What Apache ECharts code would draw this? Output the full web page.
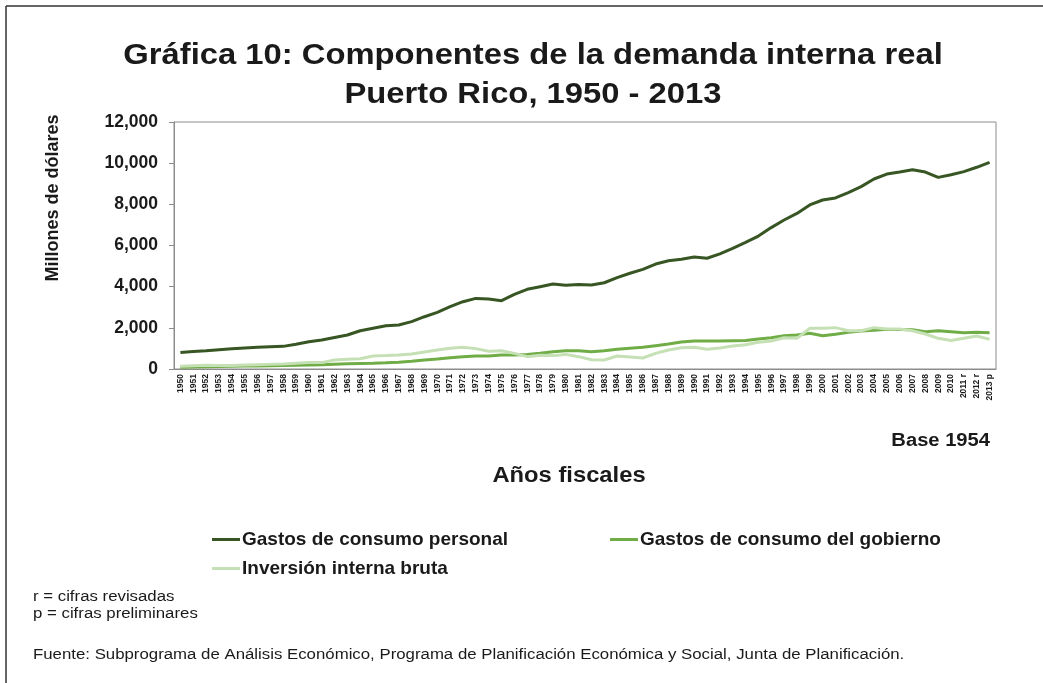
<!DOCTYPE html>
<html>
<head>
<meta charset="utf-8">
<script src="https://cdn.jsdelivr.net/npm/echarts@6/dist/echarts.min.js"></script>
<style>
  html, body { margin: 0; padding: 0; background: #fff; }
  #chart { width: 1043px; height: 683px; }
</style>
</head>
<body>
<div id="chart"></div>
<script>
const years = ['1950','1951','1952','1953','1954','1955','1956','1957','1958','1959',
  '1960','1961','1962','1963','1964','1965','1966','1967','1968','1969',
  '1970','1971','1972','1973','1974','1975','1976','1977','1978','1979',
  '1980','1981','1982','1983','1984','1985','1986','1987','1988','1989',
  '1990','1991','1992','1993','1994','1995','1996','1997','1998','1999',
  '2000','2001','2002','2003','2004','2005','2006','2007','2008','2009',
  '2010','2011 r','2012 r','2013 p'];

// millones de dólares, base 1954
const consumoPersonal = [800, 845, 890, 940, 985, 1020, 1055, 1080, 1100, 1200,
  1320, 1410, 1530, 1650, 1860, 1980, 2100, 2140, 2300, 2540,
  2750, 3030, 3270, 3430, 3400, 3320, 3630, 3870, 4000, 4130,
  4070, 4110, 4080, 4190, 4440, 4650, 4840, 5100, 5260, 5330,
  5440, 5380, 5590, 5860, 6150, 6460, 6870, 7240, 7560, 7970,
  8210, 8310, 8570, 8860, 9230, 9470, 9570, 9680, 9570, 9310,
  9440, 9590, 9800, 10040];

const consumoGobierno = [90, 100, 110, 120, 130, 140, 150, 160, 170, 180,
  195, 210, 230, 250, 265, 280, 300, 325, 380, 440,
  490, 550, 590, 630, 635, 680, 685, 710, 760, 840,
  890, 890, 840, 890, 955, 1005, 1055, 1135, 1215, 1310,
  1360, 1360, 1360, 1375, 1380, 1455, 1520, 1620, 1650, 1735,
  1620, 1685, 1780, 1845, 1880, 1925, 1925, 1910, 1815, 1860,
  1815, 1765, 1780, 1765];

const inversionBruta = [130, 160, 180, 170, 170, 190, 210, 225, 245, 280,
  310, 310, 440, 470, 500, 630, 650, 680, 730, 825,
  920, 1005, 1055, 990, 860, 890, 760, 600, 665, 650,
  710, 600, 450, 440, 630, 585, 535, 760, 920, 1035,
  1055, 955, 1020, 1115, 1180, 1295, 1360, 1520, 1490, 1975,
  1975, 2010, 1860, 1860, 2010, 1945, 1945, 1860, 1700, 1490,
  1380, 1490, 1605, 1440];

const seriesNames = ['Gastos de consumo personal', 'Gastos de consumo del gobierno', 'Inversión interna bruta'];
const colors = ['#375623', '#70ad47', '#c5e0b4'];

const FONT = 'Arial, "Liberation Sans", sans-serif';
const myChart = echarts.init(document.getElementById('chart'));

const txt = (text, x, y, size, opts = {}) => ({
  type: 'text',
  x: x,
  y: y,
  scaleX: opts.sx || 1,
  rotation: opts.rot || 0,
  style: {
    text: text,
    x: 0,
    y: 0,
    font: (opts.bold === false ? '' : 'bold ') + size + 'px ' + FONT,
    fill: '#1a1a1a',
    textAlign: opts.align || 'center',
    textVerticalAlign: 'middle'
  }
});

const option = {
  animation: false,
  backgroundColor: '#fff',
  textStyle: { fontFamily: FONT },
  grid: {
    left: 174, top: 122, right: 47, bottom: 314,
    show: true, borderColor: '#8c8c8c', borderWidth: 1
  },
  legend: seriesNames.map((n, i) => ({
    data: [n],
    left: i === 1 ? 605 : 207,
    top: i === 2 ? 554 : 525,
    icon: 'rect',
    itemWidth: 28,
    itemHeight: 3,
    itemGap: 4,
    textStyle: { fontSize: 19, fontWeight: 'bold', color: '#1a1a1a', fontFamily: FONT, padding: [0, 0, 0, -3] }
  })),
  xAxis: {
    type: 'category',
    data: years,
    boundaryGap: true,
    axisLine: { lineStyle: { color: '#8c8c8c' } },
    axisTick: { show: false },
    axisLabel: {
      interval: 0, rotate: 90, margin: 5,
      fontSize: 8.5, fontWeight: 'bold', color: '#1a1a1a'
    }
  },
  yAxis: {
    type: 'value',
    min: 0, max: 12000, interval: 2000,
    axisLine: { show: true, lineStyle: { color: '#8c8c8c' } },
    axisTick: { show: true, length: 5, lineStyle: { color: '#8c8c8c' } },
    splitLine: { show: false },
    axisLabel: {
      margin: 16, fontSize: 17.5, fontWeight: 'bold', color: '#1a1a1a',
      formatter: v => v.toLocaleString('en-US')
    }
  },
  series: [consumoPersonal, consumoGobierno, inversionBruta].map((d, i) => ({
    name: seriesNames[i],
    type: 'line',
    data: d,
    symbol: 'none',
    color: colors[i],
    lineStyle: { width: 3, color: colors[i] }
  })),
  graphic: [
    { type: 'line', shape: { x1: 6, y1: 6, x2: 1043, y2: 6 }, style: { stroke: '#333', lineWidth: 1.5 } },
    { type: 'line', shape: { x1: 6, y1: 6, x2: 6, y2: 683 }, style: { stroke: '#333', lineWidth: 1.5 } },
    txt('Gráfica 10: Componentes de la demanda interna real', 533, 56, 29, { sx: 1.13 }),
    txt('Puerto Rico, 1950 - 2013', 533, 95, 29, { sx: 1.13 }),
    txt('Millones de dólares', 53, 198, 18, { rot: Math.PI / 2 }),
    txt('Base 1954', 990, 441, 18, { align: 'right', sx: 1.12 }),
    txt('Años fiscales', 569, 476, 22, { sx: 1.08 }),
    txt('r = cifras revisadas', 33, 597, 14, { align: 'left', bold: false, sx: 1.2 }),
    txt('p = cifras preliminares', 33, 614, 14, { align: 'left', bold: false, sx: 1.2 }),
    txt('Fuente: Subprograma de Análisis Económico, Programa de Planificación Económica y Social, Junta de Planificación.', 33, 655, 14, { align: 'left', bold: false, sx: 1.2 })
  ]
};

myChart.setOption(option);
window.addEventListener('resize', () => {
  myChart.resize();
});
</script>
</body>
</html>
